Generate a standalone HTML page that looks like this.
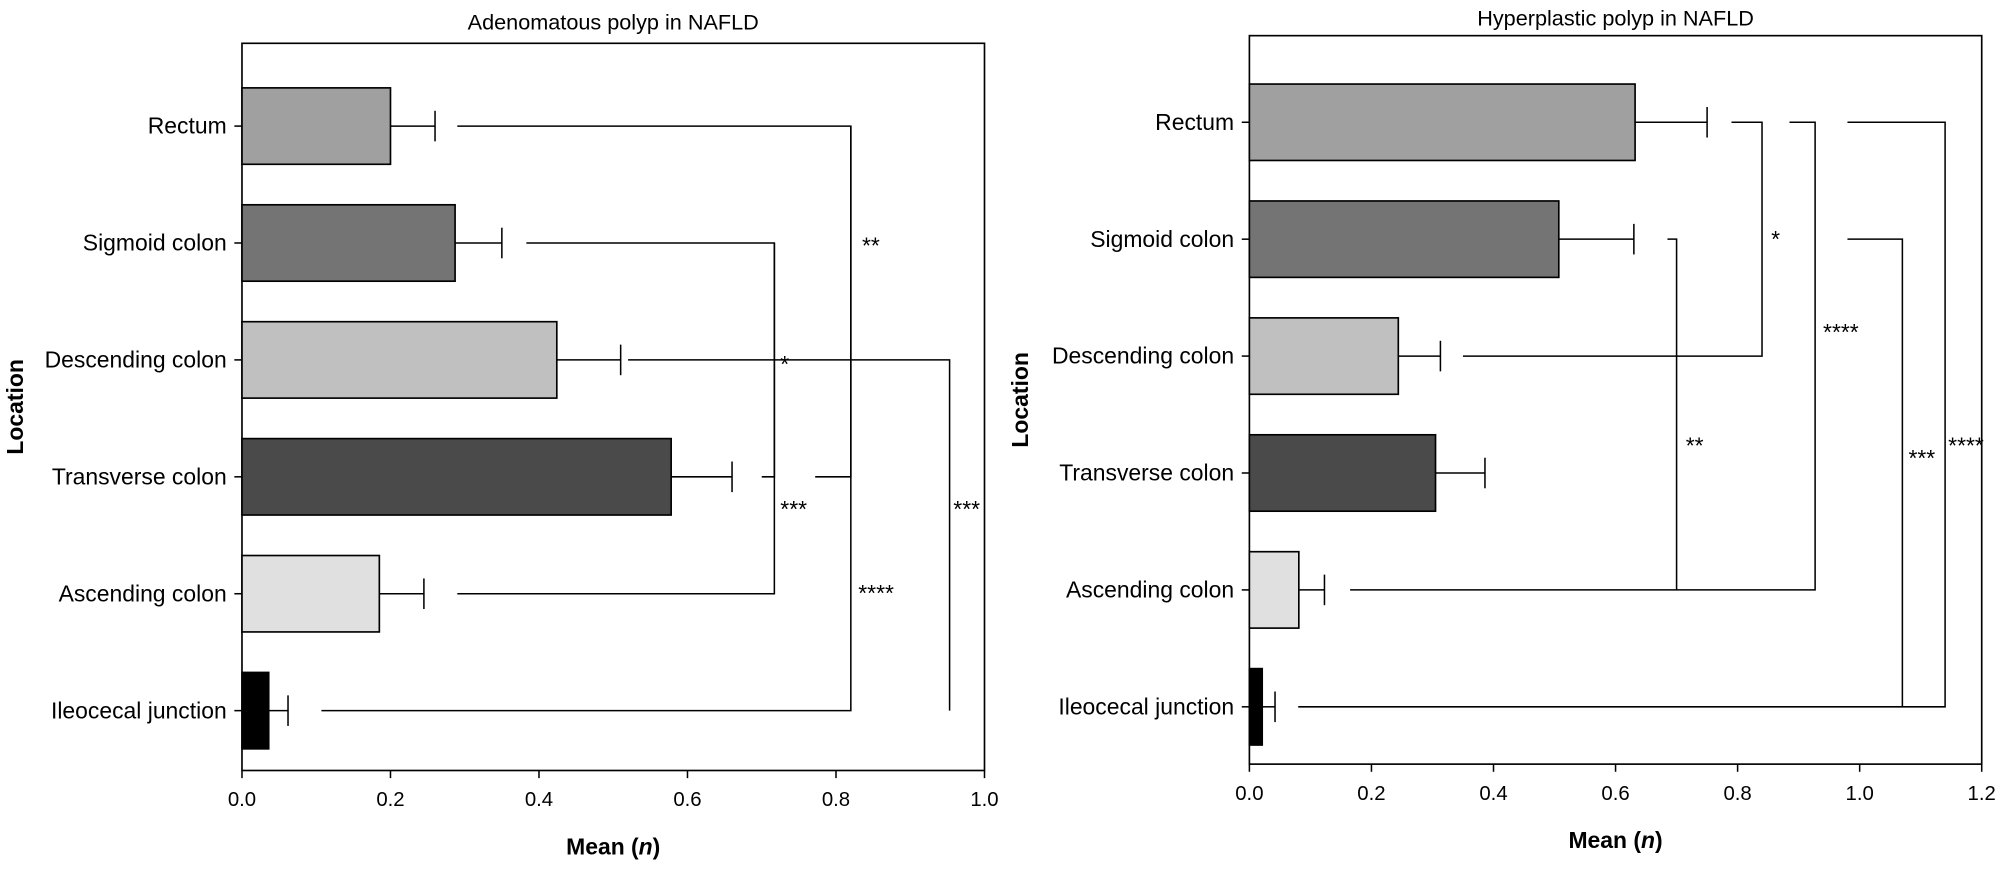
<!DOCTYPE html>
<html><head><meta charset="utf-8"><style>
html,body{margin:0;padding:0;background:#fff}
svg{display:block}
text{font-family:"Liberation Sans",sans-serif;fill:#000}
</style></head><body>
<svg id="chart" width="1997" height="879" viewBox="0 0 1568 690.2" preserveAspectRatio="none" xmlns="http://www.w3.org/2000/svg">
<g id="left"></g>
<g id="right"></g>
</svg>
<script>
const categories = ["Rectum","Sigmoid colon","Descending colon","Transverse colon","Ascending colon","Ileocecal junction"];
const colors = ["#a0a0a0","#747474","#c0c0c0","#4a4a4a","#e0e0e0","#000000"];
const leftMeans = [0.20,0.287,0.424,0.578,0.185,0.036];
const leftErr = [0.26,0.35,0.51,0.66,0.245,0.062];
const leftTicks = ["0.0","0.2","0.4","0.6","0.8","1.0"];
const rightMeans = [0.632,0.507,0.244,0.305,0.081,0.021];
const rightErr = [0.75,0.63,0.313,0.386,0.123,0.042];
const rightTicks = ["0.0","0.2","0.4","0.6","0.8","1.0","1.2"];
// brackets: [rowA, rowB, xValue, startA, startB, label, labelX, labelY]
const leftBrackets = [
 [0,5,0.82,0.29,0.107,"**",0.835,195],
 [1,4,0.717,0.383,0.29,"***",0.725,402],
 [2,5,0.953,0.52,null,"***",0.958,402],
 [3,1,0.717,0.7,null,"*",0.725,288],
 [3,0,0.82,0.772,null,"****",0.83,468]
];
const rightBrackets = [
 [0,2,0.84,0.79,0.35,"*",0.855,190],
 [0,4,0.927,0.885,0.165,"****",0.94,263],
 [0,5,1.14,0.98,0.08,"****",1.145,352],
 [1,4,0.7,0.685,null,"**",0.715,352],
 [1,5,1.07,0.98,null,"***",1.08,362]
];
const NS="http://www.w3.org/2000/svg";
function mk(parent,tag,attrs,txt){const e=document.createElementNS(NS,tag);for(const k in attrs)e.setAttribute(k,attrs[k]);if(txt!==undefined)e.textContent=txt;parent.appendChild(e);return e;}
function draw(gid,cfg){
 const g=document.getElementById(gid);
 const x=v=>cfg.x0+(v/cfg.max)*(cfg.x1-cfg.x0);
 const rowY=i=>cfg.r0+i*cfg.rs;
 let t=mk(g,'text',{x:(cfg.x0+cfg.x1)/2,y:cfg.titleY,'text-anchor':'middle','font-size':17},cfg.title);
 
 let f=mk(g,'rect',{x:cfg.x0,y:cfg.top,width:cfg.x1-cfg.x0,height:cfg.bot-cfg.top,fill:'none',stroke:'#000','stroke-width':1.3});
 
 cfg.ticks.forEach((lab,i)=>{
  const v=i*cfg.step,xx=x(v);
  mk(g,'line',{x1:xx,x2:xx,y1:cfg.bot,y2:cfg.bot+6,stroke:'#000','stroke-width':1.2});
  let tl=mk(g,'text',{x:xx,y:cfg.bot+28,'text-anchor':'middle','font-size':16},lab);
  
 });
 categories.forEach((c,i)=>{
  const y=rowY(i),bh=60;
  mk(g,'line',{x1:cfg.x0-6,x2:cfg.x0,y1:y,y2:y,stroke:'#000','stroke-width':1.2});
  let cl=mk(g,'text',{x:cfg.x0-12,y:y+6,'text-anchor':'end','font-size':18},c);
  
  let b=mk(g,'rect',{x:cfg.x0,y:y-bh/2,width:x(cfg.means[i])-cfg.x0,height:bh,fill:colors[i],stroke:'#000','stroke-width':1.3});
  
  let e=mk(g,'line',{x1:x(cfg.means[i]),x2:x(cfg.err[i]),y1:y,y2:y,stroke:'#000','stroke-width':1.2});
  
  mk(g,'line',{x1:x(cfg.err[i]),x2:x(cfg.err[i]),y1:y-12,y2:y+12,stroke:'#000','stroke-width':1.2});
 });
 cfg.brackets.forEach(b=>{
  const [a,bb,xv,sa,sb,lab,lx,ly]=b;
  let d='M'+x(sa)+' '+rowY(a)+' H'+x(xv)+' V'+rowY(bb);
  if(sb!==null) d+=' H'+x(sb);
  let p=mk(g,'path',{d:d,fill:'none',stroke:'#000','stroke-width':1.2});
  
  let s=mk(g,'text',{x:x(lx),y:ly+4,'font-size':18},lab);
  
 });
 let xt=mk(g,'text',{x:(cfg.x0+cfg.x1)/2,y:cfg.bot+66,'text-anchor':'middle','font-size':18,'font-weight':'bold'});
 
 xt.innerHTML='Mean (<tspan font-style="italic">n</tspan>)';
 let yt=mk(g,'text',{x:0,y:0,transform:'translate('+cfg.yTitleX+','+((cfg.top+cfg.bot)/2)+') rotate(-90)','text-anchor':'middle','font-size':18,'font-weight':'bold'},'Location');
 
}
draw('left',{x0:190,x1:773,top:34,bot:605,r0:99,rs:91.8,max:1.0,step:0.2,ticks:leftTicks,means:leftMeans,err:leftErr,brackets:leftBrackets,title:'Adenomatous polyp in NAFLD',titleY:23,yTitleX:18});
draw('right',{x0:981,x1:1556,top:28,bot:600,r0:96,rs:91.8,max:1.2,step:0.2,ticks:rightTicks,means:rightMeans,err:rightErr,brackets:rightBrackets,title:'Hyperplastic polyp in NAFLD',titleY:20,yTitleX:807});
</script>
</body></html>
